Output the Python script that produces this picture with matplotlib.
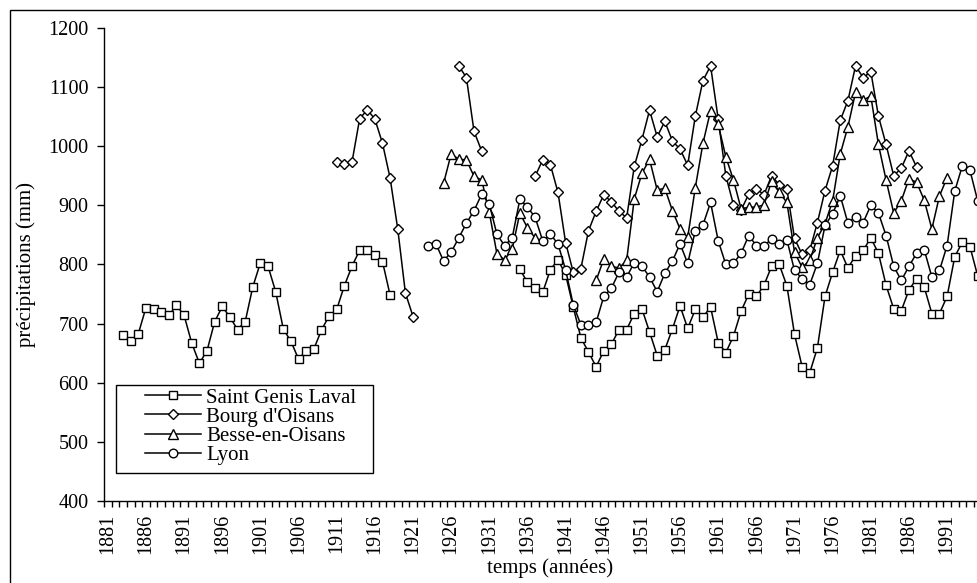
import numpy as np
import matplotlib
matplotlib.use('Agg')
import matplotlib.pyplot as plt
from matplotlib.patches import Rectangle
from matplotlib.ticker import FixedLocator

plt.rcParams['font.family'] = ['Liberation Serif', 'DejaVu Serif']

nan = np.nan

# annual precipitation (mm), one value per year
years = np.arange(1881, 1996)

saint_genis = [nan, nan, 681, 671, 683, 727, 724, 719, 714, 731,          # 1881-1890
               714, 667, 633, 654, 703, 729, 711, 690, 703, 762,          # 1891-1900
               803, 797, 754, 691, 670, 640, 654, 657, 689, 713,          # 1901-1910
               724, 764, 797, 824, 824, 816, 805, 748, nan, nan,          # 1911-1920
               nan, nan, nan, nan, nan, nan, nan, nan, nan, nan,          # 1921-1930
               nan, nan, nan, nan, 792, 770, 760, 753, 791, 808,          # 1931-1940
               783, 728, 676, 652, 627, 654, 665, 690, 690, 717,          # 1941-1950
               725, 686, 646, 656, 691, 730, 692, 724, 711, 728,          # 1951-1960
               668, 651, 679, 721, 750, 746, 765, 797, 800, 764,          # 1961-1970
               682, 627, 617, 659, 746, 787, 824, 794, 815, 824,          # 1971-1980
               845, 819, 765, 725, 722, 757, 776, 762, 717, 717,          # 1981-1990
               746, 813, 838, 830, 781]                                   # 1991-1995

bourg_oisans = [nan, nan, nan, nan, nan, nan, nan, nan, nan, nan,
                nan, nan, nan, nan, nan, nan, nan, nan, nan, nan,
                nan, nan, nan, nan, nan, nan, nan, nan, nan, nan,
                973, 970, 973, 1046, 1062, 1046, 1005, 946, 860, 752,
                712, nan, nan, nan, nan, nan, 1136, 1116, 1025, 992,
                nan, nan, nan, nan, nan, nan, 949, 977, 969, 922,
                837, 787, 793, 857, 890, 918, 906, 890, 879, 966,
                1011, 1061, 1016, 1042, 1009, 995, 968, 1051, 1111, 1136,
                1046, 950, 901, 892, 919, 928, 918, 950, 935, 928,
                844, 817, 824, 871, 925, 967, 1044, 1077, 1136, 1116,
                1126, 1051, 1003, 950, 963, 992, 965, nan, nan, nan,
                nan, nan, nan, nan, nan]

besse_oisans = [nan, nan, nan, nan, nan, nan, nan, nan, nan, nan,
                nan, nan, nan, nan, nan, nan, nan, nan, nan, nan,
                nan, nan, nan, nan, nan, nan, nan, nan, nan, nan,
                nan, nan, nan, nan, nan, nan, nan, nan, nan, nan,
                nan, nan, nan, nan, 937, 987, 978, 977, 949, 943,
                888, 818, 808, 826, 887, 862, 845, nan, nan, nan,
                nan, nan, nan, nan, 773, 809, 797, 794, 807, 911,
                954, 978, 926, 929, 891, 860, 846, 930, 1005, 1060,
                1037, 982, 943, 894, 897, 897, 901, 941, 922, 905,
                821, 795, 807, 845, 869, 908, 987, 1033, 1091, 1078,
                1085, 1003, 943, 887, 908, 945, 939, 909, 860, 916,
                947, nan, nan, nan, nan]

lyon = [nan, nan, nan, nan, nan, nan, nan, nan, nan, nan,
        nan, nan, nan, nan, nan, nan, nan, nan, nan, nan,
        nan, nan, nan, nan, nan, nan, nan, nan, nan, nan,
        nan, nan, nan, nan, nan, nan, nan, nan, nan, nan,
        nan, nan, 832, 835, 806, 821, 845, 870, 891, 919,
        902, 851, 832, 845, 910, 897, 880, 840, 851, 835,
        791, 732, 698, 698, 702, 746, 760, 787, 779, 803,
        797, 779, 754, 785, 806, 835, 802, 857, 867, 905,
        840, 800, 802, 819, 849, 832, 832, 843, 835, 842,
        790, 776, 766, 802, 866, 886, 916, 870, 881, 871,
        900, 887, 849, 797, 773, 797, 819, 825, 779, 790,
        832, 924, 967, 959, 908]

series = [('Saint Genis Laval', saint_genis, 's', 5.6),
          ("Bourg d'Oisans", bourg_oisans, 'D', 5.2),
          ('Besse-en-Oisans', besse_oisans, '^', 6.8),
          ('Lyon', lyon, 'o', 6.2)]

fig = plt.figure(figsize=(9.78, 5.83), dpi=100)
W, H = 978., 583.
ax = fig.add_axes([104/W, 82/H, 892.7/W, 473/H])

for name, vals, mk, ms in series:
    ax.plot(years, vals, color='black', lw=1.1, marker=mk, ms=ms,
            mfc='white', mec='black', mew=1.0, label=name)

ax.set_xlim(1880.5, 1997.5)
ax.set_ylim(400, 1200)
ax.set_yticks(np.arange(400, 1201, 100))
ax.set_xticks(np.arange(1881, 1997, 5))
ax.xaxis.set_minor_locator(FixedLocator(np.arange(1880.5, 1998, 1)))
ax.tick_params(axis='x', which='major', length=0, pad=9, labelsize=14.5,
               labelrotation=90)
ax.tick_params(axis='x', which='minor', length=4, width=1, direction='out')
ax.tick_params(axis='y', which='major', length=5, width=1, pad=6,
               labelsize=14.5)
for s in ['top', 'right']:
    ax.spines[s].set_visible(False)
for s in ['left', 'bottom']:
    ax.spines[s].set_linewidth(1.0)

ax.set_ylabel('précipitations (mm)', fontsize=15, labelpad=9)
ax.set_xlabel('temps (années)', fontsize=15, labelpad=3)

# legend box drawn separately like the spreadsheet one
fig.patches.append(Rectangle((115.7/W, 1-472.7/H), 257.6/W, 87.7/H,
                             transform=fig.transFigure, fill=False,
                             lw=1.0, ec='black'))
leg = fig.legend(loc='upper left', bbox_to_anchor=(145/W, 1-388/H),
                 frameon=False, fontsize=15, borderpad=0, borderaxespad=0,
                 handlelength=2.7, handletextpad=0.25, labelspacing=-0.02)

# outer chart frame
fig.patches.append(Rectangle((9.5/W, -0.1), 1.2, 1.1-10/H,
                             transform=fig.transFigure, fill=False,
                             lw=1.0, ec='black'))

fig.savefig('out.png', dpi=100)
